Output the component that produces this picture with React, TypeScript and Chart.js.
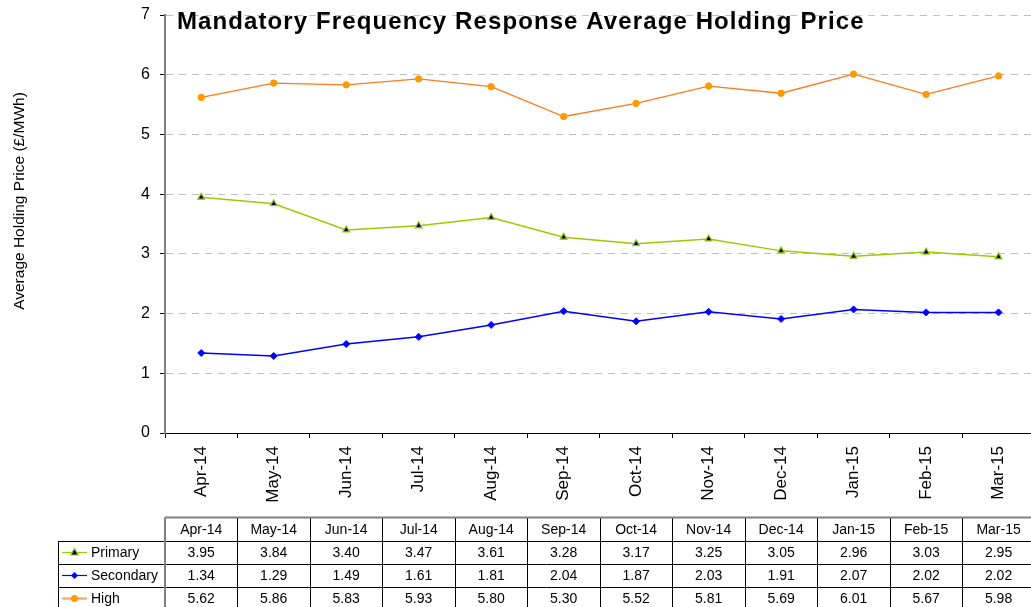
import React, { useEffect, useRef } from 'react';
import { Chart, registerables } from 'chart.js';

Chart.register(...registerables);

const categories = ['Apr-14', 'May-14', 'Jun-14', 'Jul-14', 'Aug-14', 'Sep-14', 'Oct-14', 'Nov-14', 'Dec-14', 'Jan-15', 'Feb-15', 'Mar-15'];
const primaryValues = [3.95, 3.84, 3.40, 3.47, 3.61, 3.28, 3.17, 3.25, 3.05, 2.96, 3.03, 2.95];
const secondaryValues = [1.34, 1.29, 1.49, 1.61, 1.81, 2.04, 1.87, 2.03, 1.91, 2.07, 2.02, 2.02];
const highValues = [5.62, 5.86, 5.83, 5.93, 5.80, 5.30, 5.52, 5.81, 5.69, 6.01, 5.67, 5.98];
const seriesNames = ['Primary', 'Secondary', 'High'];
const chartTitle = 'Mandatory Frequency Response Average Holding Price';
const yAxisTitle = 'Average Holding Price (£/MWh)';
const yMin = 0;
const yMax = 7;
const yStep = 1;

const FONT = "'Liberation Sans', Arial, Helvetica, sans-serif";
const GREEN = '#99CC00';
const NAVY = '#000080';
const BLUE = '#0000FF';
const ORANGE_LINE = '#FF7A1A';
const ORANGE_PT = '#FF9900';

function drawMarker(ctx: CanvasRenderingContext2D, kind: number, x: number, y: number) {
  ctx.save();
  if (kind === 0) {
    ctx.beginPath();
    ctx.moveTo(x, y - 4);
    ctx.lineTo(x + 3.8, y + 2.5);
    ctx.lineTo(x - 3.8, y + 2.5);
    ctx.closePath();
    ctx.fillStyle = NAVY;
    ctx.fill();
    ctx.strokeStyle = GREEN;
    ctx.lineWidth = 1.2;
    ctx.stroke();
  } else if (kind === 1) {
    ctx.beginPath();
    ctx.moveTo(x, y - 3.5);
    ctx.lineTo(x + 3.5, y);
    ctx.lineTo(x, y + 3.5);
    ctx.lineTo(x - 3.5, y);
    ctx.closePath();
    ctx.fillStyle = BLUE;
    ctx.fill();
  } else {
    ctx.beginPath();
    ctx.arc(x, y, 3.5, 0, Math.PI * 2);
    ctx.fillStyle = ORANGE_PT;
    ctx.fill();
  }
  ctx.restore();
}

const overlayPlugin = {
  id: 'overlay',
  afterDraw(chart: any) {
    const ctx: CanvasRenderingContext2D = chart.ctx;
    const area = chart.chartArea;
    // Title
    ctx.save();
    ctx.fillStyle = '#000';
    ctx.font = `bold 24px ${FONT}`;
    (ctx as any).letterSpacing = '1.1px';
    ctx.textAlign = 'left';
    ctx.textBaseline = 'alphabetic';
    ctx.fillText(chartTitle, area.left + 12, 29);
    (ctx as any).letterSpacing = '0px';
    ctx.restore();

    // Y axis title
    ctx.save();
    ctx.translate(20, 201);
    ctx.rotate(-Math.PI / 2);
    ctx.fillStyle = '#000';
    ctx.font = `15.5px ${FONT}`;
    ctx.textAlign = 'center';
    ctx.textBaseline = 'middle';
    ctx.fillText(yAxisTitle, 0, 0);
    ctx.restore();

    // Data table
    const xs = chart.scales.x;
    const half = (xs.getPixelForValue(1) - xs.getPixelForValue(0)) / 2;
    const edges: number[] = categories.map((_, i) => xs.getPixelForValue(i) - half);
    edges.push(xs.getPixelForValue(categories.length - 1) + half);
    const tableLeft = edges[0];
    const tableRight = edges[edges.length - 1];
    const legendLeft = 58;
    const rows = [517.5, 541, 564, 587, 610];
    const seriesData = [primaryValues, secondaryValues, highValues];

    ctx.save();
    ctx.strokeStyle = '#000';
    ctx.lineWidth = 1;
    for (let r = 1; r < rows.length - 1; r++) {
      const y = Math.round(rows[r]) + 0.5;
      ctx.beginPath();
      ctx.moveTo(legendLeft, y);
      ctx.lineTo(tableRight, y);
      ctx.stroke();
    }
    for (let i = 1; i < edges.length; i++) {
      const x = Math.round(edges[i]) + 0.5;
      ctx.beginPath();
      ctx.moveTo(x, rows[0]);
      ctx.lineTo(x, rows[rows.length - 1]);
      ctx.stroke();
    }
    ctx.beginPath();
    ctx.moveTo(legendLeft + 0.5, rows[1]);
    ctx.lineTo(legendLeft + 0.5, rows[rows.length - 1]);
    ctx.stroke();
    ctx.strokeStyle = '#808080';
    ctx.lineWidth = 2;
    ctx.beginPath();
    ctx.moveTo(tableLeft, rows[0]);
    ctx.lineTo(tableRight, rows[0]);
    ctx.stroke();
    ctx.beginPath();
    ctx.moveTo(tableLeft, rows[0]);
    ctx.lineTo(tableLeft, rows[rows.length - 1]);
    ctx.stroke();

    ctx.fillStyle = '#000';
    ctx.font = `14px ${FONT}`;
    ctx.textAlign = 'center';
    ctx.textBaseline = 'middle';
    categories.forEach((c, i) => {
      const cx = (edges[i] + edges[i + 1]) / 2;
      ctx.fillText(c, cx, (rows[0] + rows[1]) / 2 + 1);
      seriesData.forEach((vals, s) => {
        ctx.fillText(vals[i].toFixed(2), cx, (rows[s + 1] + rows[s + 2]) / 2 + 1);
      });
    });

    const lineColors = [GREEN, BLUE, '#FF9A60'];
    seriesNames.forEach((name, s) => {
      const cy = (rows[s + 1] + rows[s + 2]) / 2;
      ctx.save();
      ctx.strokeStyle = lineColors[s];
      ctx.lineWidth = s === 2 ? 2 : 1.2;
      ctx.beginPath();
      ctx.moveTo(62, cy);
      ctx.lineTo(87, cy);
      ctx.stroke();
      ctx.restore();
      drawMarker(ctx, s, 74.5, cy);
      ctx.fillStyle = '#000';
      ctx.textAlign = 'left';
      ctx.fillText(name, 91, cy + 1);
    });
    ctx.restore();
  },
};

export default function App() {
  const canvasRef = useRef<HTMLCanvasElement | null>(null);

  useEffect(() => {
    if (!canvasRef.current) return;
    const yTickValues: number[] = [];
    for (let v = yMin; v <= yMax; v += yStep) yTickValues.push(v);

    const chart = new Chart(canvasRef.current, {
      type: 'line',
      data: {
        labels: categories,
        datasets: [
          {
            label: seriesNames[0],
            data: primaryValues,
            borderColor: GREEN,
            borderWidth: 1.5,
            pointStyle: 'triangle',
            pointRadius: 4,
            pointBackgroundColor: NAVY,
            pointBorderColor: GREEN,
            pointBorderWidth: 1.2,
            tension: 0,
          },
          {
            label: seriesNames[1],
            data: secondaryValues,
            borderColor: BLUE,
            borderWidth: 1.5,
            pointStyle: 'rectRot',
            pointRadius: 3.5,
            pointBackgroundColor: BLUE,
            pointBorderColor: BLUE,
            pointBorderWidth: 1,
            tension: 0,
          },
          {
            label: seriesNames[2],
            data: highValues,
            borderColor: ORANGE_LINE,
            borderWidth: 1.3,
            pointStyle: 'circle',
            pointRadius: 3.2,
            pointBackgroundColor: ORANGE_PT,
            pointBorderColor: ORANGE_PT,
            pointBorderWidth: 1,
            tension: 0,
          },
        ],
      },
      options: {
        animation: false,
        responsive: false,
        devicePixelRatio: 1,
        layout: { padding: { left: 0, top: 15, right: 4, bottom: 0 } },
        plugins: {
          legend: { display: false },
          tooltip: { enabled: false },
          title: { display: false },
        },
        scales: {
          x: {
            type: 'category',
            offset: true,
            grid: {
              offset: true,
              drawOnChartArea: false,
              drawTicks: true,
              tickLength: 5,
              color: '#000',
              tickColor: '#000',
            },
            border: { color: '#000', width: 1 },
            ticks: {
              autoSkip: false,
              minRotation: 90,
              maxRotation: 90,
              padding: 8,
              color: '#000',
              font: { family: FONT, size: 17 },
            },
            afterFit: (s: any) => {
              s.height = 174;
              s.paddingLeft = 0;
              s.paddingRight = 0;
            },
          },
          y: {
            min: yMin,
            max: yMax,
            afterBuildTicks: (s: any) => {
              s.ticks = yTickValues.map((v) => ({ value: v }));
            },
            ticks: {
              stepSize: yStep,
              padding: 10,
              color: '#000',
              font: { family: FONT, size: 16 },
            },
            grid: {
              color: (c: any) => (c.tick && c.tick.value === 0 ? 'rgba(0,0,0,0)' : '#C0C0C0'),
              lineWidth: 1,
              tickColor: '#000',
              tickLength: 5,
              tickBorderDash: [],
            },
            border: { color: '#808080', width: 2, dash: [7, 6] },
            afterFit: (s: any) => {
              s.width = 165;
              s.paddingTop = 0;
              s.paddingBottom = 0;
            },
          },
        },
      },
      plugins: [overlayPlugin],
    } as any);

    return () => chart.destroy();
  }, []);

  return (
    <div style={{ position: 'fixed', left: 0, top: 0, width: 1031, height: 607, overflow: 'hidden', background: '#fff' }}>
      <canvas ref={canvasRef} width={1040} height={607} style={{ display: 'block', width: 1040, height: 607 }} />
    </div>
  );
}
